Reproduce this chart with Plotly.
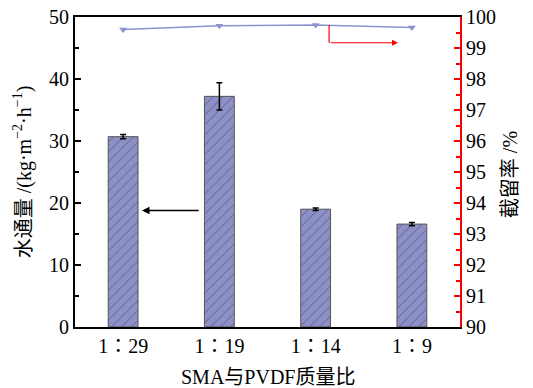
import plotly.graph_objects as go

categories = ["1∶29", "1∶19", "1∶14", "1∶9"]
flux = [30.7, 37.2, 19.0, 16.6]
flux_err = [0.35, 2.2, 0.2, 0.25]
rejection = [99.6, 99.72, 99.74, 99.66]

xi = list(range(len(categories)))
FONT = "Liberation Serif, Noto Sans CJK SC, serif"

fig = go.Figure()
fig.add_trace(go.Bar(
    x=xi, y=flux, width=0.31,
    marker=dict(color="#8C90C6", line=dict(color="#555", width=1),
                pattern=dict(shape="/", fgcolor="#222", size=7, solidity=0.12, fillmode="overlay")),
    error_y=dict(type="data", array=flux_err, color="black", thickness=1.5, width=3),
    showlegend=False,
))
fig.add_trace(go.Scatter(
    x=xi, y=rejection, yaxis="y2", mode="lines+markers",
    line=dict(color="#8A93CE", width=1.5),
    marker=dict(symbol="triangle-down", size=7, color="#8A93CE"),
    showlegend=False,
))

fig.update_layout(
    width=533, height=388,
    margin=dict(l=75, r=73, t=17, b=61, autoexpand=False),
    paper_bgcolor="white", plot_bgcolor="white",
    font=dict(family=FONT, size=20, color="black"),
    xaxis=dict(range=[-0.5, 3.5], tickmode="array", tickvals=xi, ticktext=categories,
               showline=True, linecolor="black", linewidth=2, mirror=True, ticks="",
               showgrid=False, zeroline=False, automargin=False),
    yaxis=dict(range=[0, 50], dtick=10, showline=True, linecolor="black", linewidth=2,
               ticks="inside", ticklen=6, tickwidth=1.5, tickcolor="black",
               minor=dict(ticks="inside", ticklen=4, dtick=5, tickcolor="black", tickwidth=1.5),
               showgrid=False, zeroline=False, automargin=False),
    yaxis2=dict(range=[90, 100], dtick=1, overlaying="y", side="right",
                showline=True, linecolor="red", linewidth=2,
                ticks="inside", ticklen=6, tickwidth=1.5, tickcolor="red",
                minor=dict(ticks="inside", ticklen=4, dtick=0.5, tickcolor="red", tickwidth=1.5),
                showgrid=False, zeroline=False, automargin=False),
)

# axis titles
fig.add_annotation(text="SMA与PVDF质量比", xref="paper", yref="paper", x=0.5, y=-0.16,
                   xanchor="center", yanchor="middle", showarrow=False, font=dict(size=20))
fig.add_annotation(text="水通量 /(kg·m<sup>−2</sup>·h<sup>−1</sup>)", xref="paper", yref="paper",
                   x=-0.137, y=0.5, xanchor="center", yanchor="middle", textangle=-90,
                   showarrow=False, font=dict(size=20))
fig.add_annotation(text="截留率 /%", xref="paper", yref="paper", x=1.13, y=0.49,
                   xanchor="center", yanchor="middle", textangle=-90,
                   showarrow=False, font=dict(size=20))

# black arrow pointing to left axis
fig.add_annotation(x=0.196, y=18.8, ax=0.80, ay=18.8, xref="x", yref="y", axref="x", ayref="y",
                   showarrow=True, arrowhead=2, arrowsize=1, arrowwidth=1.5, arrowcolor="black", text="")
# red arrow pointing to right axis
fig.add_shape(type="line", x0=2.14, x1=2.14, y0=99.74, y1=99.17, xref="x", yref="y2",
              line=dict(color="red", width=1.2))
fig.add_annotation(x=2.856, y=99.17, ax=2.14, ay=99.17, xref="x", yref="y2", axref="x", ayref="y2",
                   showarrow=True, arrowhead=2, arrowsize=1, arrowwidth=1.2, arrowcolor="red", text="")

fig.write_html("out.html")
